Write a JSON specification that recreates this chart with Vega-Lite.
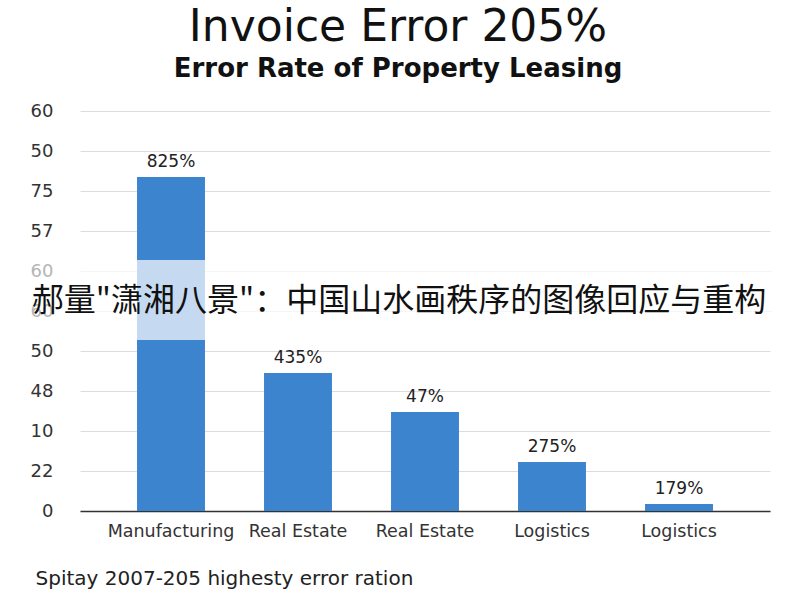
{
  "$schema": "https://vega.github.io/schema/vega-lite/v6.json",
  "autosize": "none",
  "width": 690,
  "height": 400,
  "padding": {"left": 80, "top": 111, "right": 30, "bottom": 89},
  "background": "white",
  "title": {
    "text": "Invoice Error 205%",
    "subtitle": "Error Rate of Property Leasing",
    "anchor": "middle",
    "dx": -27,
    "offset": 20,
    "font": "DejaVu Sans",
    "fontSize": 44,
    "fontWeight": "normal",
    "color": "#111",
    "subtitleFont": "DejaVu Sans",
    "subtitleFontSize": 26,
    "subtitleFontWeight": "bold",
    "subtitleColor": "#111",
    "subtitlePadding": 6
  },
  "config": {
    "view": {"stroke": null},
    "font": "DejaVu Sans"
  },
  "datasets": {
    "bars": [
      {"id": "a", "cat": "Manufacturing", "v": 8.35, "label": "825%"},
      {"id": "b", "cat": "Real Estate", "v": 3.45, "label": "435%"},
      {"id": "c", "cat": "Real Estate", "v": 2.475, "label": "47%"},
      {"id": "d", "cat": "Logistics", "v": 1.225, "label": "275%"},
      {"id": "e", "cat": "Logistics", "v": 0.175, "label": "179%"}
    ],
    "band": [{"lo": 4.275, "hi": 6.275}],
    "overlay": [{"t": "郝量\"潇湘八景\"：中国山水画秩序的图像回应与重构", "pos": 5.25}]
  },
  "layer": [
    {
      "data": {"name": "bars"},
      "mark": {"type": "bar", "color": "#3d84cf"},
      "encoding": {
        "x": {
          "field": "id",
          "type": "nominal",
          "sort": null,
          "scale": {"paddingInner": 0.465, "paddingOuter": 0.449},
          "axis": {
            "labelExpr": "{'a':'Manufacturing','b':'Real Estate','c':'Real Estate','d':'Logistics','e':'Logistics'}[datum.value]",
            "labelAngle": 0,
            "labelFont": "DejaVu Sans",
            "labelFontSize": 17.5,
            "labelColor": "#333",
            "labelPadding": 11,
            "labelOverlap": false,
            "ticks": false,
            "domainColor": "#333",
            "domainWidth": 1.5,
            "title": "Spitay 2007-205 highesty error ration",
            "titleFont": "DejaVu Sans",
            "titleFontSize": 20,
            "titleFontWeight": "normal",
            "titleColor": "#222",
            "titleAnchor": "start",
            "titleAlign": "left",
            "titleX": -45,
            "titleY": 73,
            "titleBaseline": "alphabetic"
          }
        },
        "y": {
          "field": "v",
          "type": "quantitative",
          "scale": {"domain": [0, 10], "nice": false},
          "axis": {
            "values": [0, 1, 2, 3, 4, 5, 6, 7, 8, 9, 10],
            "tickCount": 30,
            "labelExpr": "['0','22','10','48','50','60','60','57','75','50','60'][round(datum.value)]",
            "labelFont": "DejaVu Sans",
            "labelFontSize": 18,
            "labelColor": {"condition": {"test": "datum.value == 6 || datum.value == 5", "value": "#b5b5b5"}, "value": "#333"},
            "labelPadding": 27,
            "labelOverlap": false,
            "ticks": false,
            "domain": false,
            "grid": true,
            "gridColor": "#dcdcdc",
            "title": null
          }
        }
      }
    },
    {
      "data": {"name": "band"},
      "mark": {"type": "rect", "color": "white", "opacity": 0.7},
      "encoding": {
        "y": {"field": "lo", "type": "quantitative"},
        "y2": {"field": "hi"}
      }
    },
    {
      "data": {"name": "bars"},
      "mark": {"type": "text", "baseline": "bottom", "dy": -6, "fontSize": 17, "color": "#222", "font": "DejaVu Sans"},
      "encoding": {
        "x": {"field": "id", "type": "nominal", "sort": null},
        "y": {"field": "v", "type": "quantitative"},
        "text": {"field": "label"}
      }
    },
    {
      "data": {"name": "overlay"},
      "mark": {"type": "text", "font": "Noto Sans CJK SC", "fontSize": 32, "color": "#111", "dx": -26, "baseline": "middle"},
      "encoding": {
        "y": {"field": "pos", "type": "quantitative"},
        "text": {"field": "t"}
      }
    }
  ]
}
